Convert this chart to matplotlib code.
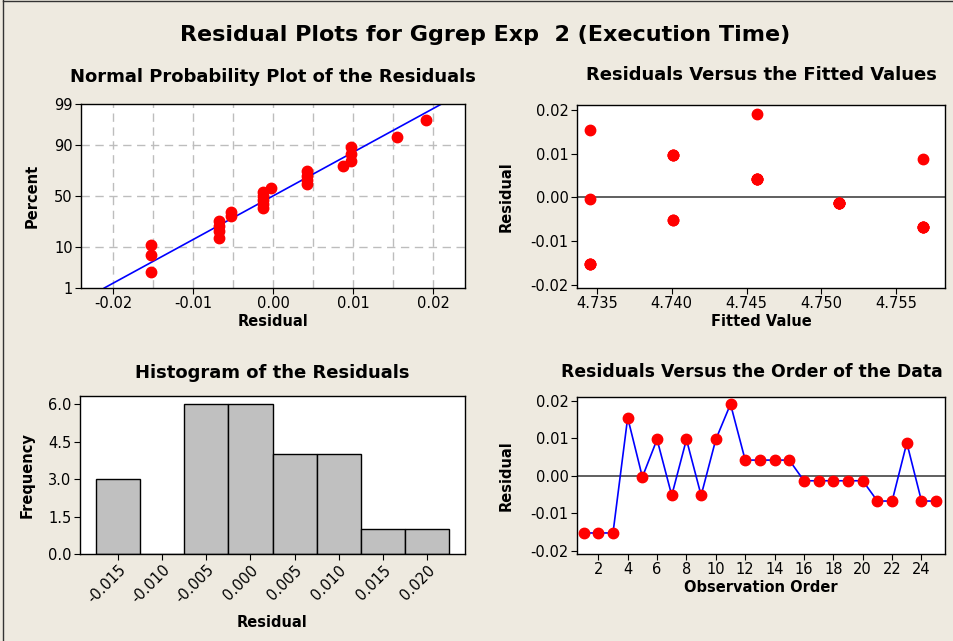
import numpy as np
import matplotlib
matplotlib.use("Agg")
import matplotlib.pyplot as plt
from matplotlib.lines import Line2D
from statistics import NormalDist

# residuals in observation order
residuals = np.array([-0.0152, -0.0152, -0.0152, 0.0155, -0.0003,
                      0.0097, -0.0052, 0.0097, -0.0052, 0.0097,
                      0.0191, 0.0042, 0.0042, 0.0042, 0.0042,
                      -0.0013, -0.0013, -0.0013, -0.0013, -0.0013,
                      -0.0067, -0.0067, 0.0088, -0.0067, -0.0067])
fitted = np.array([4.7345] * 5 + [4.7401] * 5 + [4.7457] * 5 + [4.7512] * 5 + [4.7568] * 5)
order = np.arange(1, len(residuals) + 1)

pct_ticks = [1, 10, 50, 90, 99]
hist_edges = np.arange(-0.0175, 0.0226, 0.005)
hist_ticks = [-0.015, -0.010, -0.005, 0.000, 0.005, 0.010, 0.015, 0.020]

BG = "#EEEAE0"
W, H = 954, 641

fig = plt.figure(figsize=(W / 100, H / 100), dpi=100, facecolor=BG)


def box(l, t, r, b):
    return [l / W, (H - b) / H, (r - l) / W, (b - t) / H]


def style(ax):
    ax.set_facecolor("white")
    for s in ax.spines.values():
        s.set_linewidth(1.0)
        s.set_color("black")
    ax.tick_params(labelsize=10.5, length=4, width=0.8, direction="out", pad=2)


title_kw = dict(fontsize=13, fontweight="bold")
lab_kw = dict(fontsize=10.5, fontweight="bold")

fig.text(0.508, 1 - 35 / H, "Residual Plots for Ggrep Exp  2 (Execution Time)",
         ha="center", va="center", fontsize=16, fontweight="bold")
fig.add_artist(Line2D([3 / W, 3 / W], [0, 1], color="#333333", lw=1, transform=fig.transFigure))
fig.add_artist(Line2D([3 / W, 1], [1 - 1 / H, 1 - 1 / H], color="#333333", lw=1, transform=fig.transFigure))

# normal probability plot
nd = NormalDist()
ax1 = fig.add_axes(box(81, 104, 465, 288))
style(ax1)
srt = np.sort(residuals)
n = len(srt)
probs = (np.arange(1, n + 1) - 0.3) / (n + 0.4)
z = np.array([nd.inv_cdf(p) for p in probs])
zlo, zhi = nd.inv_cdf(0.01), nd.inv_cdf(0.99)
mu, sd = residuals.mean(), residuals.std(ddof=1)
zl = np.linspace(zlo, zhi, 50)
for xv in np.arange(-0.02, 0.0201, 0.005):
    ax1.axvline(xv, color="#BDBDBD", ls=(0, (6, 4)), lw=1, zorder=0)
for p in pct_ticks[1:-1]:
    ax1.axhline(nd.inv_cdf(p / 100), color="#BDBDBD", ls=(0, (6, 4)), lw=1, zorder=0)
ax1.plot(mu + sd * zl, zl, color="#0000FF", lw=1.2, zorder=2)
ax1.plot(srt, z, "o", color="#FF0000", ms=7.5, zorder=3)
ax1.set_xlim(-0.024, 0.024)
ax1.set_ylim(zlo, zhi)
ax1.set_yticks([nd.inv_cdf(p / 100) for p in pct_ticks])
ax1.set_yticklabels([str(p) for p in pct_ticks])
ax1.set_xticks([-0.02, -0.01, 0.0, 0.01, 0.02])
ax1.set_xticklabels(["-0.02", "-0.01", "0.00", "0.01", "0.02"])
ax1.set_title("Normal Probability Plot of the Residuals", pad=16, **title_kw)
ax1.set_xlabel("Residual", labelpad=2, **lab_kw)
ax1.set_ylabel("Percent", **lab_kw)
ax1.yaxis.set_label_coords(-0.107, 0.5)

# residuals vs fitted
ax2 = fig.add_axes(box(577, 105, 945, 288))
style(ax2)
ax2.axhline(0, color="#444444", lw=1.2, zorder=1)
ax2.plot(fitted, residuals, "o", color="#FF0000", ms=7.5, zorder=3)
ax2.set_xlim(4.73366, 4.75828)
ax2.set_ylim(-0.0207, 0.0211)
ax2.set_xticks([4.735, 4.740, 4.745, 4.750, 4.755])
ax2.set_xticklabels(["4.735", "4.740", "4.745", "4.750", "4.755"])
ax2.set_yticks([-0.02, -0.01, 0.0, 0.01, 0.02])
ax2.set_yticklabels(["-0.02", "-0.01", "0.00", "0.01", "0.02"])
ax2.set_title("Residuals Versus the Fitted Values", pad=18, **title_kw)
ax2.set_xlabel("Fitted Value", labelpad=2, **lab_kw)
ax2.set_ylabel("Residual", **lab_kw)
ax2.yaxis.set_label_coords(-0.171, 0.5)

# histogram
ax3 = fig.add_axes(box(80, 396, 465, 554))
style(ax3)
ax3.hist(residuals, bins=hist_edges, color="#C0C0C0", edgecolor="black", lw=1)
ax3.set_xlim(-0.0193, 0.0243)
ax3.set_ylim(0, 6.33)
ax3.set_yticks([0, 1.5, 3.0, 4.5, 6.0])
ax3.set_yticklabels(["0.0", "1.5", "3.0", "4.5", "6.0"])
ax3.set_xticks(hist_ticks)
ax3.set_xticklabels(["%.3f" % v for v in hist_ticks], rotation=45, ha="right",
                    rotation_mode="anchor")
ax3.set_title("Histogram of the Residuals", pad=13, **title_kw)
ax3.set_xlabel("Residual", labelpad=6, **lab_kw)
ax3.set_ylabel("Frequency", **lab_kw)
ax3.yaxis.set_label_coords(-0.117, 0.5)

# residuals vs order
ax4 = fig.add_axes(box(577, 397, 945, 554))
style(ax4)
ax4.axhline(0, color="#444444", lw=1.2, zorder=1)
ax4.plot(order, residuals, "-", color="#0000FF", lw=1.2, zorder=2)
ax4.plot(order, residuals, "o", color="#FF0000", ms=7.5, zorder=3)
ax4.set_xlim(0.55, 25.6)
ax4.set_ylim(-0.0208, 0.021)
ax4.set_xticks(np.arange(2, 25, 2))
ax4.set_yticks([-0.02, -0.01, 0.0, 0.01, 0.02])
ax4.set_yticklabels(["-0.02", "-0.01", "0.00", "0.01", "0.02"])
fig.text(561 / W, 1 - 372 / H, "Residuals Versus the Order of the Data",
         ha="left", va="center", fontsize=12.4, fontweight="bold")
ax4.set_xlabel("Observation Order", labelpad=2, **lab_kw)
ax4.set_ylabel("Residual", **lab_kw)
ax4.yaxis.set_label_coords(-0.171, 0.5)

fig.savefig("out.png", dpi=100, facecolor=BG)
